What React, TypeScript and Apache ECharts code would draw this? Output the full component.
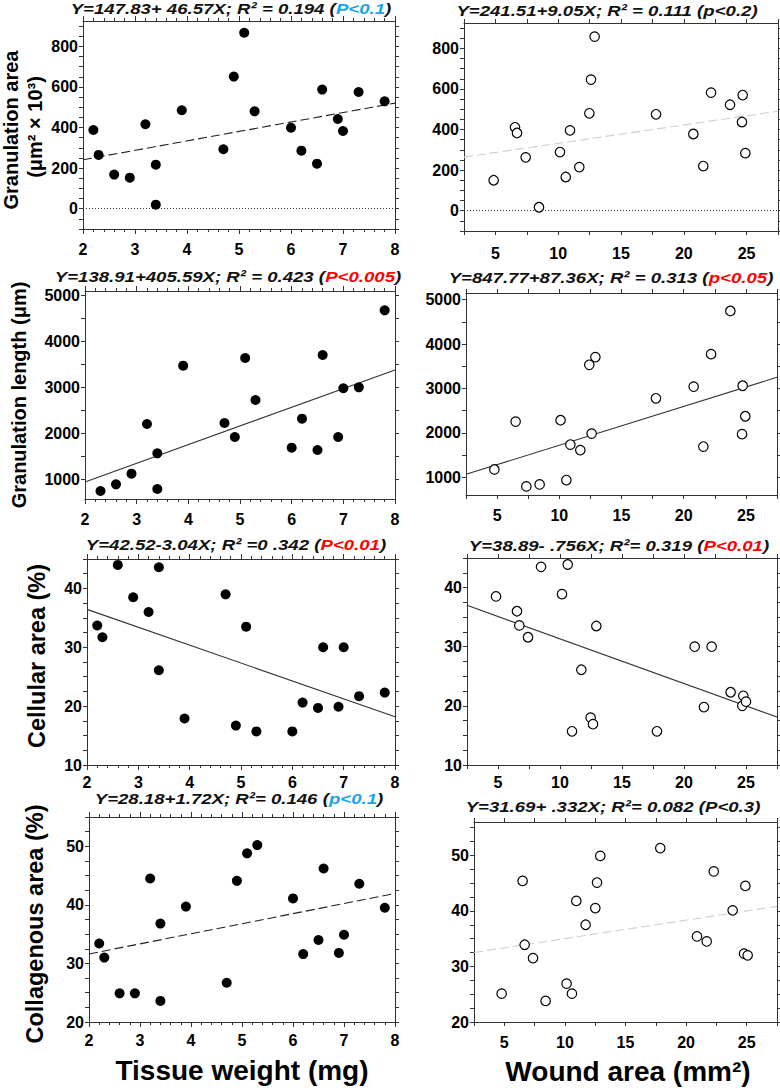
import React, { useEffect, useRef } from "react";
import * as echarts from "echarts";

const FONT = '"Liberation Sans", Arial, sans-serif';

// ---------- data ----------
const tissueX = [2.2, 2.3, 2.6, 2.9, 3.2, 3.4, 3.4, 3.9, 4.7, 4.9, 5.1, 5.3, 6.0, 6.2, 6.5, 6.6, 6.9, 7.0, 7.3, 7.8];
const granAreaTissueY = [388, 265, 168, 153, 416, 217, 20, 485, 293, 651, 867, 480, 399, 286, 222, 587, 442, 383, 575, 529];
const granLenTissueX = [2.3, 2.6, 2.9, 3.2, 3.4, 3.4, 3.9, 4.7, 4.9, 5.1, 5.3, 6.0, 6.2, 6.5, 6.6, 6.9, 7.0, 7.3, 7.8];
const granLenTissueY = [754, 899, 1130, 2210, 1573, 797, 3477, 2231, 1927, 3644, 2731, 1695, 2325, 1645, 3709, 1927, 2986, 3007, 4680];
const cellTissueY = [33.7, 31.7, 44.0, 38.5, 36.0, 43.6, 26.1, 17.9, 39.0, 16.7, 33.5, 15.7, 15.7, 20.6, 19.7, 30.0, 19.9, 30.0, 21.7, 22.3];
const collTissueY = [33.4, 31.0, 24.9, 24.9, 44.5, 36.8, 23.6, 39.7, 26.7, 44.1, 48.8, 50.2, 41.1, 31.6, 34.0, 46.2, 31.8, 34.9, 43.6, 39.5];

const granAreaWoundX = [4.86, 6.56, 6.72, 7.41, 8.47, 10.14, 10.6, 10.94, 11.68, 12.48, 12.61, 12.9, 17.79, 20.76, 21.55, 22.17, 23.68, 24.69, 24.63, 24.9];
const granAreaWoundY = [150, 411, 383, 263, 17, 289, 166, 396, 215, 480, 646, 858, 475, 378, 220, 582, 522, 570, 437, 284];
const granLenWoundX = [4.78, 6.49, 7.35, 8.42, 10.1, 10.57, 10.89, 11.69, 12.41, 12.6, 12.9, 17.77, 20.8, 21.58, 22.2, 23.75, 24.74, 24.69, 24.95];
const granLenWoundY = [1175, 2253, 793, 838, 2284, 937, 1736, 1611, 3533, 1983, 3706, 2778, 3039, 1691, 3773, 4745, 3061, 1970, 2374];
const cellWoundX = [4.84, 6.53, 6.72, 7.42, 8.47, 10.16, 10.62, 10.97, 11.72, 12.47, 12.66, 12.93, 17.82, 20.86, 21.61, 22.23, 23.76, 24.78, 24.7, 25.0];
const cellWoundY = [38.5, 36.0, 33.6, 31.6, 43.5, 38.9, 43.9, 15.7, 26.1, 18.0, 16.9, 33.5, 15.7, 30.0, 19.8, 30.0, 22.3, 21.7, 20.0, 20.7];
const collWoundX = [4.78, 6.51, 6.68, 7.37, 8.41, 10.14, 10.58, 10.94, 11.71, 12.51, 12.65, 12.92, 17.87, 20.9, 21.7, 22.28, 23.84, 24.89, 24.78, 25.08];
const collWoundY = [25.1, 45.4, 33.9, 31.5, 23.8, 26.9, 25.1, 41.8, 37.5, 40.5, 45.1, 49.9, 51.3, 35.4, 34.5, 47.1, 40.1, 44.5, 32.3, 32.0];

// regression equations (from panel titles)
const intercepts = [147.83, 138.91, 42.52, 28.18, 241.51, 847.77, 38.89, 31.69];
const slopes = [46.57, 405.59, -3.04, 1.72, 9.05, 87.36, -0.756, 0.332];

// tick labels
const tissueTicks = [2, 3, 4, 5, 6, 7, 8];
const woundTicks = [5, 10, 15, 20, 25];
const granAreaTicks = [0, 200, 400, 600, 800];
const granLenTicks = [1000, 2000, 3000, 4000, 5000];
const cellTicks = [10, 20, 30, 40];
const collTicks = [20, 30, 40, 50];

// titles
const titleEq = [
  "Y=147.83+ 46.57X; R² = 0.194 (",
  "Y=138.91+405.59X; R² = 0.423 (",
  "Y=42.52-3.04X; R² =0 .342 (",
  "Y=28.18+1.72X; R²= 0.146 (",
  "Y=241.51+9.05X; R² = 0.111 (",
  "Y=847.77+87.36X; R² = 0.313 (",
  "Y=38.89- .756X; R²= 0.319 (",
  "Y=31.69+ .332X; R²= 0.082 (",
];
const titleP = ["P<0.1", "P<0.005", "P<0.01", "p<0.1", "p<0.2", "p<0.05", "P<0.01", "P<0.3"];

const BLUE = "#1aa3ec";
const RED = "#ff0000";
const BLACK = "#111";

function range(a: number, b: number, step: number) {
  const out: number[] = [];
  const n = Math.round((b - a) / step);
  for (let i = 0; i <= n; i++) out.push(+(a + i * step).toFixed(4));
  return out;
}

const panels = [
  { grid: { left: 83, top: 21, width: 312, height: 208 }, xs: tissueX, ys: granAreaTissueY, xMin: 2, xMax: 8, yMin: -100, yMax: 925, xLabels: tissueTicks, xStep: 0.2, yLabels: granAreaTicks, yStep: 50, yTickMin: -100, yTickMax: 900, open: false, lineColor: "#222", lineType: [9, 4] as any, zero: true, title: [231, 9], pColor: BLUE, xMargin: 12 },
  { grid: { left: 85, top: 291, width: 310, height: 208 }, xs: granLenTissueX, ys: granLenTissueY, xMin: 2, xMax: 8, yMin: 580, yMax: 5100, xLabels: tissueTicks, xStep: 0.2, yLabels: granLenTicks, yStep: 500, yTickMin: 1000, yTickMax: 5000, open: false, lineColor: "#333", lineType: "solid" as any, zero: false, title: [228, 277], pColor: RED, xMargin: 12 },
  { grid: { left: 87, top: 559, width: 308, height: 206 }, xs: tissueX, ys: cellTissueY, xMin: 2, xMax: 8, yMin: 10, yMax: 45, xLabels: tissueTicks, xStep: 0.2, yLabels: cellTicks, yStep: 2.5, yTickMin: 10, yTickMax: 45, open: false, lineColor: "#333", lineType: "solid" as any, zero: false, title: [236, 545], pColor: RED, xMargin: 9 },
  { grid: { left: 89, top: 817, width: 306, height: 205 }, xs: tissueX, ys: collTissueY, xMin: 2, xMax: 8, yMin: 20, yMax: 55, xLabels: tissueTicks, xStep: 0.2, yLabels: collTicks, yStep: 2.5, yTickMin: 20, yTickMax: 55, open: false, lineColor: "#222", lineType: [9, 4] as any, zero: false, title: [239, 799], pColor: BLUE, xMargin: 10 },
  { grid: { left: 464, top: 23, width: 314, height: 208 }, xs: granAreaWoundX, ys: granAreaWoundY, xMin: 2.5, xMax: 27.5, yMin: -100, yMax: 925, xLabels: woundTicks, xStep: 2.5, yLabels: granAreaTicks, yStep: 50, yTickMin: -100, yTickMax: 900, open: true, lineColor: "#cfcfcf", lineType: [9, 4] as any, zero: true, title: [607, 11], pColor: BLACK, xMargin: 14 },
  { grid: { left: 466, top: 293, width: 311, height: 202 }, xs: granLenWoundX, ys: granLenWoundY, xMin: 2.5, xMax: 27.5, yMin: 600, yMax: 5150, xLabels: woundTicks, xStep: 2.5, yLabels: granLenTicks, yStep: 500, yTickMin: 1000, yTickMax: 5000, open: true, lineColor: "#333", lineType: "solid" as any, zero: false, title: [611, 278], pColor: RED, xMargin: 12 },
  { grid: { left: 467, top: 558, width: 310, height: 207 }, xs: cellWoundX, ys: cellWoundY, xMin: 2.5, xMax: 27.5, yMin: 10, yMax: 45, xLabels: woundTicks, xStep: 2.5, yLabels: cellTicks, yStep: 2.5, yTickMin: 10, yTickMax: 45, open: true, lineColor: "#333", lineType: "solid" as any, zero: false, title: [619, 546], pColor: RED, xMargin: 9 },
  { grid: { left: 474, top: 822, width: 303, height: 200 }, xs: collWoundX, ys: collWoundY, xMin: 2.5, xMax: 27.5, yMin: 20, yMax: 56, xLabels: woundTicks, xStep: 2.5, yLabels: collTicks, yStep: 2.5, yTickMin: 20, yTickMax: 55, open: true, lineColor: "#cfcfcf", lineType: [9, 4] as any, zero: false, title: [613, 807], pColor: BLACK, xMargin: 12 },
];

const yNames = [
  { text: "Granulation area", x: 11, y: 130, size: 20 },
  { text: "(μm² × 10³)", x: 35, y: 127, size: 20 },
  { text: "Granulation length (μm)", x: 19, y: 395, size: 20 },
  { text: "Cellular area (%)", x: 37, y: 656, size: 23.5 },
  { text: "Collagenous area (%)", x: 35, y: 924, size: 23.5 },
];
const xNames = [
  { text: "Tissue weight (mg)", x: 242, y: 1070 },
  { text: "Wound area (mm²)", x: 628, y: 1071 },
];

const TITLE_SIZE = 15.5;
const TITLE_STRETCH = 1.2;
const TITLE_FONT = `italic bold ${TITLE_SIZE}px ${FONT}`;
let measureCtx: CanvasRenderingContext2D | null = null;
function measure(text: string, font: string) {
  if (!measureCtx) measureCtx = document.createElement("canvas").getContext("2d");
  if (!measureCtx) return text.length * 8;
  measureCtx.font = font;
  return measureCtx.measureText(text).width;
}

function buildOption() {
  const axisLine = { show: true, onZero: false, lineStyle: { color: "#333", width: 1 } };
  const labelStyle = { color: "#000", fontSize: 16, fontWeight: "bold", fontFamily: FONT, formatter: (v: number) => String(v) };
  const grid: any[] = [];
  const xAxis: any[] = [];
  const yAxis: any[] = [];
  const series: any[] = [];
  const graphic: any[] = [];

  panels.forEach((p, i) => {
    grid.push({ ...p.grid, containLabel: false });
    const isTissue = p.xMin === 2;
    const xTicks = range(p.xMin, p.xMax, p.xStep);
    const yTicks = range(p.yTickMin, p.yTickMax, p.yStep);
    for (const pos of ["bottom", "top"]) {
      const base: any = {
        type: "value",
        gridIndex: i,
        position: pos,
        min: p.xMin,
        max: p.xMax,
        axisLine,
        splitLine: { show: false },
        axisLabel: pos === "bottom"
          ? { show: true, margin: p.xMargin, ...labelStyle, customValues: isTissue ? undefined : p.xLabels }
          : { show: false },
      };
      if (isTissue) {
        base.interval = 1;
        base.axisTick = { show: true, length: 5, lineStyle: { color: "#333" } };
        base.minorTick = { show: true, splitNumber: 5, length: 3, lineStyle: { color: "#333" } };
      } else {
        base.axisTick = { show: true, length: 4, lineStyle: { color: "#333" }, customValues: xTicks };
      }
      xAxis.push(base);
    }
    for (const pos of ["left", "right"]) {
      yAxis.push({
        type: "value",
        gridIndex: i,
        position: pos,
        min: p.yMin,
        max: p.yMax,
        axisLine,
        splitLine: { show: false },
        axisTick: { show: true, length: 4, lineStyle: { color: "#333" }, customValues: yTicks },
        axisLabel: pos === "left" ? { show: true, margin: 5, ...labelStyle, customValues: p.yLabels } : { show: false },
      });
    }
    const data = p.xs.map((x, k) => [x, p.ys[k]]);
    const scatter: any = {
      type: "scatter",
      xAxisIndex: 2 * i,
      yAxisIndex: 2 * i,
      data,
      symbol: "circle",
      symbolSize: p.open ? 9.5 : 10,
      itemStyle: p.open
        ? { color: "#fff", borderColor: "#000", borderWidth: 1.2, opacity: 1 }
        : { color: "#000", opacity: 1 },
      z: 5,
    };
    if (p.zero) {
      scatter.markLine = {
        silent: true,
        symbol: ["none", "none"],
        label: { show: false },
        lineStyle: { type: [1, 2], color: "#333", width: 1 },
        data: [{ yAxis: 0 }],
        animation: false,
      };
    }
    series.push(scatter);
    const a = intercepts[i];
    const b = slopes[i];
    series.push({
      type: "line",
      xAxisIndex: 2 * i,
      yAxisIndex: 2 * i,
      data: [
        [p.xMin, a + b * p.xMin],
        [p.xMax, a + b * p.xMax],
      ],
      symbol: "none",
      lineStyle: { color: p.lineColor, width: 1.1, type: p.lineType },
      z: 3,
    });

    // title: three text pieces side by side, slightly stretched horizontally
    const pieces = [
      { t: titleEq[i], c: BLACK },
      { t: titleP[i], c: p.pColor },
      { t: ")", c: BLACK },
    ];
    const widths = pieces.map((pc) => measure(pc.t, TITLE_FONT));
    const total = widths.reduce((s, w) => s + w, 0);
    let ox = -total / 2;
    const children: any[] = [];
    pieces.forEach((pc, k) => {
      children.push({
        type: "text",
        x: ox,
        y: 0,
        style: {
          text: pc.t,
          align: "left",
          verticalAlign: "middle",
          fontSize: TITLE_SIZE,
          fontWeight: "bold",
          fontStyle: "italic",
          fontFamily: FONT,
          fill: pc.c,
        },
      });
      ox += widths[k];
    });
    graphic.push({ type: "group", x: p.title[0], y: p.title[1], scaleX: TITLE_STRETCH, children });
  });

  yNames.forEach((n) => {
    graphic.push({
      type: "text",
      x: n.x,
      y: n.y,
      rotation: Math.PI / 2,
      style: {
        text: n.text,
        align: "center",
        verticalAlign: "middle",
        fontSize: n.size,
        fontWeight: "bold",
        fontFamily: FONT,
        fill: "#000",
      },
    });
  });
  xNames.forEach((n) => {
    graphic.push({
      type: "text",
      x: n.x,
      y: n.y,
      style: {
        text: n.text,
        align: "center",
        verticalAlign: "middle",
        fontSize: 28,
        fontWeight: "bold",
        fontFamily: FONT,
        fill: "#000",
      },
    });
  });

  return { animation: false, backgroundColor: "#fff", grid, xAxis, yAxis, series, graphic };
}

export default function App() {
  const ref = useRef<HTMLDivElement>(null);
  useEffect(() => {
    document.body.style.margin = "0";
    if (!ref.current) return;
    const chart = echarts.init(ref.current, undefined, { renderer: "svg" });
    chart.setOption(buildOption() as any);
    return () => chart.dispose();
  }, []);
  return <div ref={ref} style={{ width: 780, height: 1088 }} />;
}
